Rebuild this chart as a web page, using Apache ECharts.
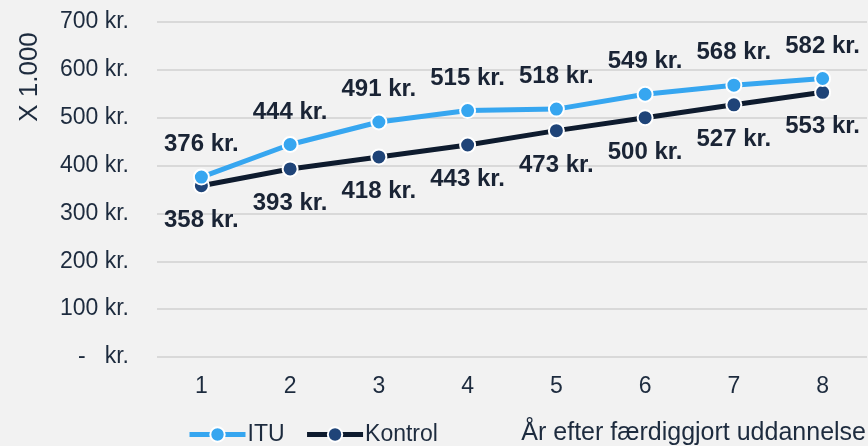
<!DOCTYPE html>
<html>
<head>
<meta charset="utf-8">
<script src="https://cdn.jsdelivr.net/npm/echarts@6/dist/echarts.min.js"></script>
<style>html,body{margin:0;padding:0;background:#f2f2f2;}#c{width:868px;height:446px;}</style>
</head>
<body>
<div id="c"></div>
<script>
var categories = ['1','2','3','4','5','6','7','8'];
var ituValues = [376, 444, 491, 515, 518, 549, 568, 582];
var kontrolValues = [358, 393, 418, 443, 473, 500, 527, 553];
var seriesNames = ['ITU', 'Kontrol'];
var yAxisTitle = 'X 1.000';
var xAxisTitle = 'År efter færdiggjort uddannelse';

var FONT = 'Liberation Sans, Arial, sans-serif';
var TXT = '#1d2b3e';
var chart = echarts.init(document.getElementById('c'));
chart.setOption({
  backgroundColor: '#f2f2f2',
  animation: false,
  textStyle: {fontFamily: FONT},
  grid: {left: 157, right: 1, top: 22, bottom: 89, containLabel: false},
  legend: {
    left: 182, top: 418,
    itemWidth: 56, itemHeight: 18, itemGap: 20,
    lineStyle: {width: 5},
    textStyle: {fontSize: 23, color: TXT, fontFamily: FONT, padding: [0,0,0,-3]},
    data: seriesNames
  },
  xAxis: {
    type: 'category', data: categories, boundaryGap: true,
    axisLine: {show: false}, axisTick: {show: false},
    axisLabel: {fontSize: 23, color: TXT, margin: 18, fontFamily: FONT}
  },
  yAxis: {
    type: 'value', min: 0, max: 700, interval: 100,
    axisLine: {show: false}, axisTick: {show: false},
    splitLine: {lineStyle: {color: '#d9d9d9', width: 2}},
    axisLabel: {fontSize: 23, color: TXT, margin: 28, fontFamily: FONT,
      formatter: function (v) { return v === 0 ? '-   kr.' : v + ' kr.'; }}
  },
  graphic: [
    {type: 'text', x: 30, y: 77, rotation: Math.PI / 2,
      style: {text: yAxisTitle, fontSize: 26, fill: TXT, fontFamily: FONT, align: 'center', verticalAlign: 'middle'}},
    {type: 'text', x: 866, y: 433,
      style: {text: xAxisTitle, fontSize: 25, fill: TXT, fontFamily: FONT, align: 'right', verticalAlign: 'middle'}}
  ],
  series: [
    {
      name: seriesNames[0], type: 'line', data: ituValues,
      symbol: 'circle', symbolSize: 15,
      lineStyle: {color: '#36a6f0', width: 5},
      itemStyle: {color: '#36a6f0', borderColor: '#ffffff', borderWidth: 2},
      label: {show: true, position: 'top', distance: 12, fontSize: 24, fontWeight: 'bold', color: '#1a2435', fontFamily: FONT,
        formatter: function (p) { return p.value + ' kr.'; }},
      z: 3
    },
    {
      name: seriesNames[1], type: 'line', data: kontrolValues,
      symbol: 'circle', symbolSize: 15,
      lineStyle: {color: '#0e1b2e', width: 5},
      itemStyle: {color: '#1f4478', borderColor: '#ffffff', borderWidth: 2},
      label: {show: true, position: 'bottom', distance: 14, fontSize: 24, fontWeight: 'bold', color: '#1a2435', fontFamily: FONT,
        formatter: function (p) { return p.value + ' kr.'; }},
      z: 2
    }
  ]
});
</script>
</body>
</html>
